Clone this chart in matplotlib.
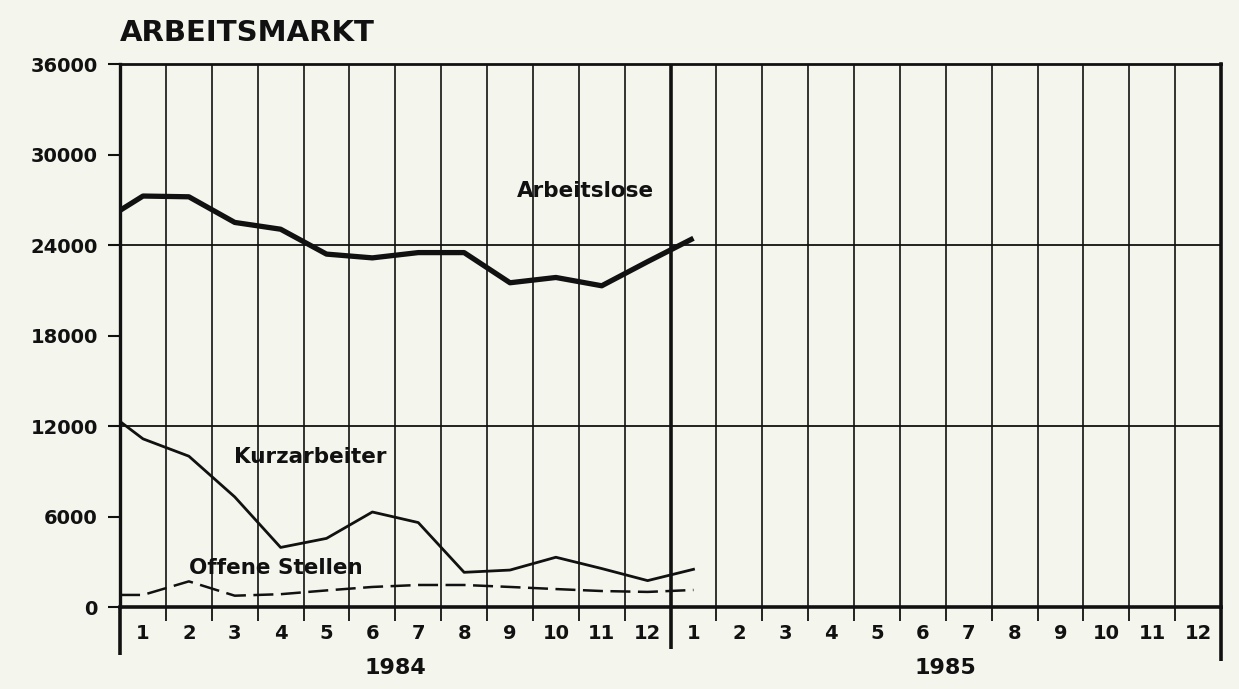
import numpy as np
import matplotlib.pyplot as plt
import matplotlib.transforms as mtransforms

# Werte: Jahresanfang 1984, dann Monate 1..12 1984 und Januar 1985
arbeitslose = [26300, 27250, 27200, 25500, 25050, 23400, 23150, 23500, 23500,
               21500, 21850, 21300, 22900, 24450]
kurzarbeiter = [12300, 11150, 10000, 7300, 3950, 4550, 6300, 5600, 2300,
                2450, 3300, 2550, 1750, 2500]
offene_stellen = [800, 800, 1700, 750, 850, 1100, 1330, 1460, 1460,
                  1330, 1190, 1060, 1000, 1130]

month_labels = [str(m) for m in range(1, 13)] * 2
years = ["1984", "1985"]
y_ticks = [0, 6000, 12000, 18000, 24000, 30000, 36000]

# x: Anfang (0), dann Monatsmitten
x = np.array([0] + [m - 0.5 for m in range(1, len(arbeitslose))])

bg = "#f4f6ee"
ink = "#111111"
plt.rcParams["font.family"] = "DejaVu Sans"

fig = plt.figure(figsize=(12.39, 6.89), dpi=100, facecolor=bg)
ax = fig.add_axes([0.0969, 0.119, 0.8886, 0.788], facecolor=bg)
ax.set_xlim(0, 24)
ax.set_ylim(0, 36000)

# Gitter
for b in range(1, 24):
    lw = 2.6 if b == 12 else 1.2
    ax.axvline(b, color=ink, lw=lw, zorder=1)
for h in (12000, 24000):
    ax.axhline(h, color=ink, lw=1.3, zorder=1)

# Linien
ax.plot(x, arbeitslose, color=ink, lw=3.8, solid_capstyle="butt", zorder=3)
ax.plot(x, kurzarbeiter, color=ink, lw=2.0, zorder=3)
ax.plot(x, offene_stellen, color=ink, lw=1.8, dashes=(8, 3), zorder=3)

# Rahmen
for side in ("left", "bottom", "right", "top"):
    ax.spines[side].set_color(ink)
ax.spines["left"].set_linewidth(2.4)
ax.spines["bottom"].set_linewidth(2.6)
ax.spines["right"].set_linewidth(2.6)
ax.spines["top"].set_linewidth(2.0)

# Y-Achse
ax.set_yticks(y_ticks)
ax.set_yticklabels([str(v) for v in y_ticks], fontweight="bold")
ax.tick_params(axis="y", length=9, width=1.5, color=ink, pad=7,
               labelsize=14, labelcolor=ink)

# X-Achse: Monatsgrenzen als Striche, Monatsnamen in der Mitte
ax.set_xticks(np.arange(0, 25), minor=True)
ax.set_xticks(np.arange(24) + 0.5)
ax.set_xticklabels(month_labels, fontweight="bold")
ax.tick_params(axis="x", which="major", length=0, pad=12, labelsize=14,
               labelcolor=ink)
ax.tick_params(axis="x", which="minor", length=10, width=1.3, color=ink)

# lange Striche unter der Achse (Jahresgrenzen)
trans = mtransforms.blended_transform_factory(ax.transData, ax.transAxes)
for xb, ylow in ((0, -0.088), (12, -0.078), (24, -0.10)):
    ax.plot([xb, xb], [0, ylow], color=ink, lw=2.6, transform=trans,
            clip_on=False, solid_capstyle="butt")

for i, yr in enumerate(years):
    ax.text(6 + 12 * i, -0.113, yr, transform=trans, ha="center",
            va="center", fontsize=16, fontweight="bold", color=ink)

# Beschriftungen
ax.text(10.15, 27600, "Arbeitslose", ha="center", va="center",
        fontsize=15.5, fontweight="bold", color=ink)
ax.text(4.15, 9950, "Kurzarbeiter", ha="center", va="center",
        fontsize=15.5, fontweight="bold", color=ink)
ax.text(3.4, 2600, "Offene Stellen", ha="center", va="center",
        fontsize=15.5, fontweight="bold", color=ink)

fig.text(120 / 1239, 1 - 33 / 689, "ARBEITSMARKT", ha="left", va="center",
         fontsize=21, fontweight="bold", color=ink)

fig.savefig("out.png", dpi=100, facecolor=bg)
